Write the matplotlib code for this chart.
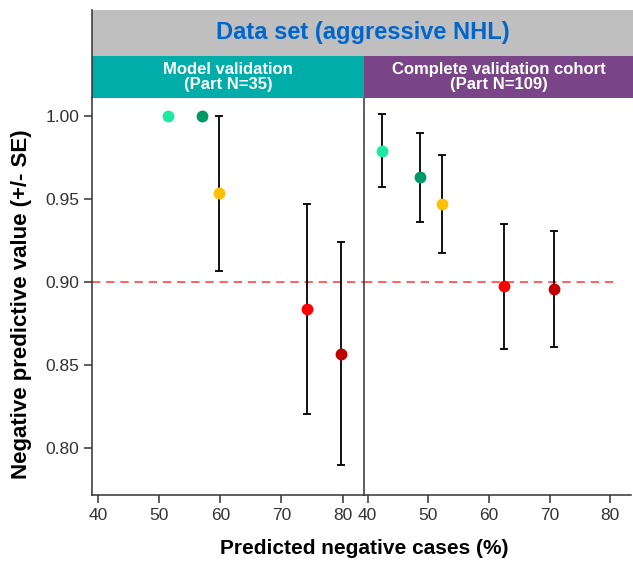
import numpy as np
import matplotlib.pyplot as plt
from matplotlib.lines import Line2D

plt.rcParams['font.family'] = ['Liberation Sans', 'DejaVu Sans']

# points: cyan, dark green, yellow, red, dark red
colors = ['#1de9a0', '#009966', '#ffc000', '#ff0000', '#c00000']

# Model validation (Part N=35)
x_model = [51.4, 57.0, 59.8, 74.1, 79.7]
npv_model = [1.000, 1.000, 0.9535, 0.884, 0.857]
se_model = [0.0, 0.0, 0.0467, 0.0632, 0.067]

# Complete validation cohort (Part N=109)
x_cohort = [42.3, 48.7, 52.3, 62.5, 70.7]
npv_cohort = [0.979, 0.963, 0.947, 0.8975, 0.896]
se_cohort = [0.022, 0.0266, 0.0297, 0.0374, 0.0347]

xticks = [40, 50, 60, 70, 80]
yticks = [0.80, 0.85, 0.90, 0.95, 1.00]
threshold = 0.90

W, H = 633, 562
fig = plt.figure(figsize=(W / 100, H / 100), dpi=100)


def rect(x0, y0, x1, y1):
    return [x0 / W, 1 - y1 / H, (x1 - x0) / W, (y1 - y0) / H]


ax1 = fig.add_axes(rect(92, 98, 364, 495))
ax2 = fig.add_axes(rect(364, 98, 631, 495))

spine_col = '#333333'
for ax, xs, ys, es, xl in [(ax1, x_model, npv_model, se_model, (39.0, 83.5)),
                           (ax2, x_cohort, npv_cohort, se_cohort, (39.4, 83.4))]:
    for x, y, e, c in zip(xs, ys, es, colors):
        if e > 0:
            ax.errorbar(x, y, yerr=e, fmt='none', ecolor='black',
                        elinewidth=1.3, capsize=3, capthick=1.3, zorder=2)
        ax.plot(x, y, 'o', color=c, markersize=7.5, zorder=3)
    ax.set_xlim(*xl)
    ax.set_ylim(0.772, 1.0108)
    ax.set_xticks(xticks)
    ax.tick_params(axis='x', labelsize=12.5, labelcolor='#333333', length=6,
                   width=1.1, color=spine_col, pad=3)
    ax.spines['top'].set_visible(False)
    ax.spines['right'].set_visible(False)
    ax.spines['bottom'].set_color(spine_col)
    ax.spines['left'].set_color(spine_col)
    ax.spines['bottom'].set_linewidth(1.1)
    ax.spines['left'].set_linewidth(1.1)

ax1.plot([39.0, 83.5], [threshold, threshold], '--', color='#ff4444',
         lw=1.2, dashes=(5, 3.5), zorder=1)
ax2.plot([39.4, 81.1], [threshold, threshold], '--', color='#ff4444',
         lw=1.2, dashes=(5, 3.5), zorder=1)

ax1.set_yticks(yticks)
ax1.set_yticklabels([f'{v:.2f}' for v in yticks])
ax1.tick_params(axis='y', labelsize=12.5, labelcolor='#333333', length=6,
                width=1.1, color=spine_col, pad=3)
ax2.set_yticks([])

fig.text(364 / W, 1 - 549 / H, 'Predicted negative cases (%)', ha='center',
         va='center', fontsize=15, fontweight='bold')
fig.text(22 / W, 1 - 304 / H, 'Negative predictive value (+/- SE)', ha='center',
         va='center', rotation=90, fontsize=16, fontweight='bold')

# header bands
bands = [((92, 10, 633, 56), '#bfbfbf', 'Data set (aggressive NHL)', '#0066cc', 17),
         ((92, 56, 364, 98), '#00ada9', 'Model validation\n(Part N=35)', 'white', 12),
         ((364, 56, 633, 98), '#7a4588', 'Complete validation cohort\n(Part N=109)', 'white', 12)]
for r, bg, label, tc, fs in bands:
    bax = fig.add_axes(rect(*r))
    bax.set_facecolor(bg)
    bax.set_xticks([])
    bax.set_yticks([])
    for s in bax.spines.values():
        s.set_visible(False)
    bax.text(0.5, 0.5, label, ha='center', va='center', color=tc,
             fontsize=fs, fontweight='bold', linespacing=1.0,
             transform=bax.transAxes)

fig.add_artist(Line2D([92 / W, 92 / W], [1 - 98 / H, 1 - 10 / H], color=spine_col,
                      lw=1.1, transform=fig.transFigure))

fig.savefig('out.png', dpi=100)
